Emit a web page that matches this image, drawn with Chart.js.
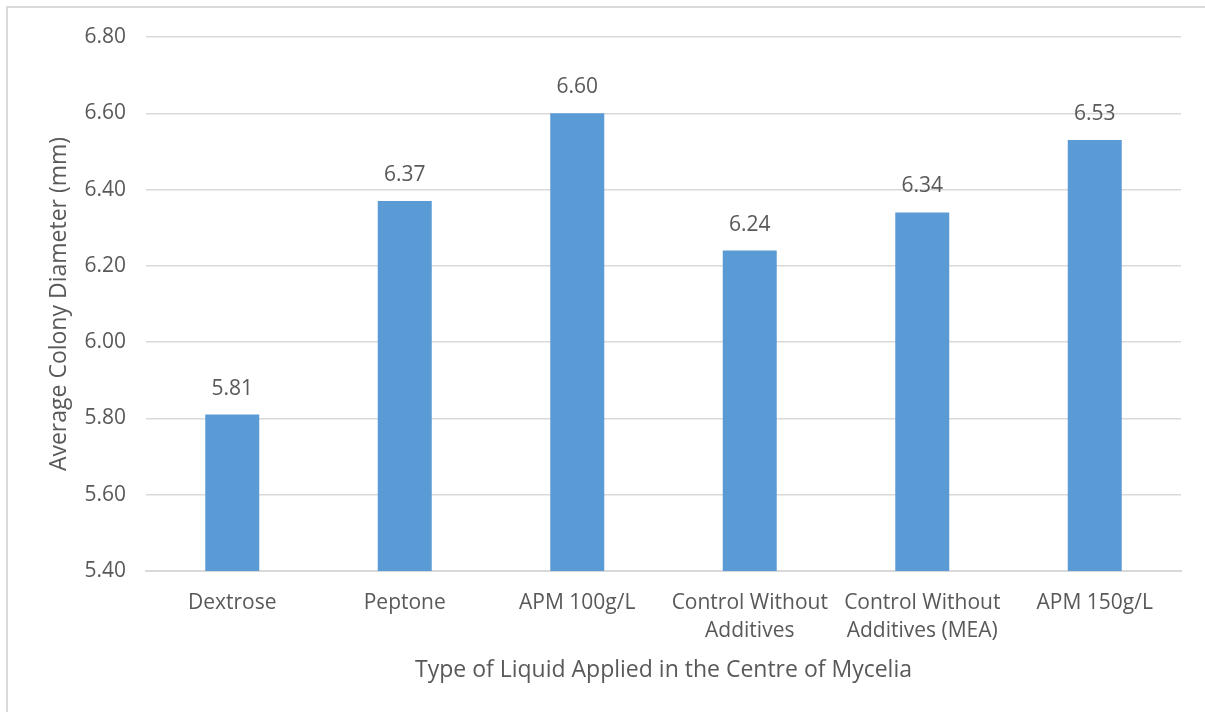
<!DOCTYPE html>
<html>
<head>
<meta charset="utf-8">
<script src="https://cdn.jsdelivr.net/npm/chart.js@4.4.1/dist/chart.umd.min.js"></script>
<style>
  html, body { margin: 0; padding: 0; background: #ffffff; }
  #wrap { width: 1205px; height: 712px; position: relative; }
</style>
</head>
<body>
<div id="wrap"><canvas id="chart" width="1205" height="712"></canvas></div>
<script>
// Liquid treatments and mean colony diameters (mm)
const categories = [
  'Dextrose',
  'Peptone',
  'APM 100g/L',
  ['Control Without', 'Additives'],
  ['Control Without', 'Additives (MEA)'],
  'APM 150g/L'
];
const diameters = [5.81, 6.37, 6.60, 6.24, 6.34, 6.53];
const yMin = 5.40;
const yMax = 6.80;
const yStep = 0.20;

const textColor = '#595959';
const gridColor = '#d9d9d9';
const barColor = '#5b9bd5';
const fontFamily = '"Open Sans", "Noto Sans", sans-serif';

// White background plus the thin frame around the chart
const framePlugin = {
  id: 'frame',
  beforeDraw(chart) {
    const ctx = chart.ctx;
    ctx.save();
    ctx.fillStyle = '#ffffff';
    ctx.fillRect(0, 0, chart.width, chart.height);
    ctx.strokeStyle = '#d9d9d9';
    ctx.lineWidth = 2;
    ctx.strokeRect(7, 7, chart.width + 20, chart.height + 20);
    ctx.restore();
  }
};

// Value labels printed above each bar
const valueLabels = {
  id: 'valueLabels',
  afterDatasetsDraw(chart) {
    const ctx = chart.ctx;
    const meta = chart.getDatasetMeta(0);
    ctx.save();
    ctx.font = '21px ' + fontFamily;
    ctx.fillStyle = textColor;
    ctx.textAlign = 'center';
    ctx.textBaseline = 'middle';
    meta.data.forEach((bar, i) => {
      ctx.fillText(diameters[i].toFixed(2), bar.x, bar.y - 26);
    });
    ctx.restore();
  }
};

new Chart(document.getElementById('chart'), {
  type: 'bar',
  data: {
    labels: categories,
    datasets: [{
      data: diameters,
      backgroundColor: barColor,
      borderWidth: 0,
      categoryPercentage: 1.0,
      barPercentage: 0.313
    }]
  },
  options: {
    responsive: false,
    animation: false,
    layout: { padding: { left: 0, right: 24, top: 37, bottom: 0 } },
    plugins: {
      legend: { display: false },
      tooltip: { enabled: false }
    },
    scales: {
      x: {
        grid: { display: false, drawTicks: false },
        border: { display: true, color: gridColor, width: 2 },
        ticks: {
          color: textColor,
          font: { family: fontFamily, size: 21, lineHeight: 1.33 },
          padding: 18,
          maxRotation: 0,
          autoSkip: false
        },
        title: {
          display: true,
          text: 'Type of Liquid Applied in the Centre of Mycelia',
          color: textColor,
          font: { family: fontFamily, size: 23 },
          padding: { bottom: 28 }
        },
        afterFit(scale) { scale.height = 141; }
      },
      y: {
        min: yMin,
        max: yMax,
        grid: { color: gridColor, lineWidth: 1.5, drawTicks: false },
        border: { display: false },
        ticks: {
          stepSize: yStep,
          color: textColor,
          font: { family: fontFamily, size: 21 },
          padding: 20,
          callback: v => v.toFixed(2)
        },
        title: {
          display: true,
          text: 'Average Colony Diameter (mm)',
          color: textColor,
          font: { family: fontFamily, size: 23 },
          padding: { top: 46 }
        },
        afterFit(scale) { scale.width = 146; }
      }
    }
  },
  plugins: [framePlugin, valueLabels]
});
</script>
</body>
</html>
